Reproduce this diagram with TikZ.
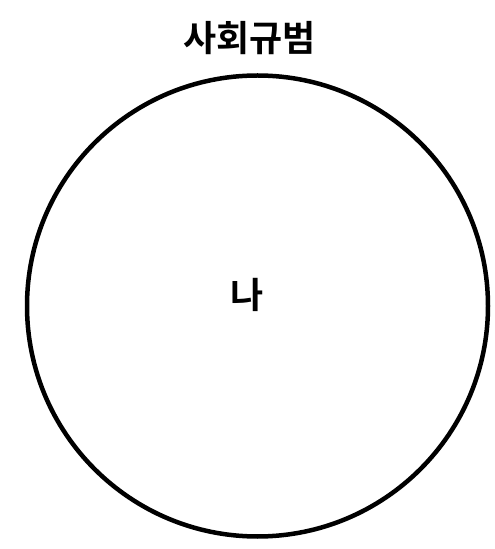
\documentclass[tikz,border=0pt]{standalone}
\usepackage{fontspec}
\newfontfamily\kr{Noto Sans CJK KR}[BoldFont={* Bold}]
\begin{document}
\begin{tikzpicture}[x=1pt,y=1pt,
  lbl/.style={font=\kr\bfseries\fontsize{36}{42}\selectfont, inner sep=0pt},
  ring/.style={draw=black, line width=4.5pt}]
\useasboundingbox (0,0) rectangle (495,549);
\node[ring, circle, minimum size=461pt, inner sep=0pt] (c) at (257.5,243) {};
\node[lbl] (t) at (249.5,511) {사회규범};
\node[lbl] (n) at (247.5,254.5) {나};
\end{tikzpicture}
\end{document}
